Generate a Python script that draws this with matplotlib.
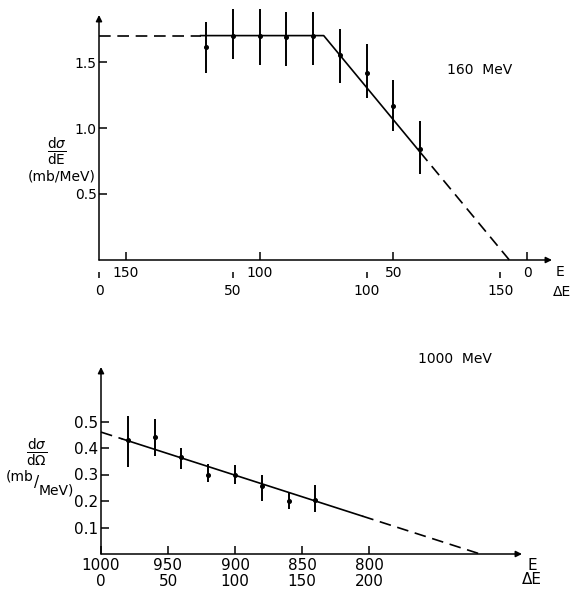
import numpy as np
import matplotlib
matplotlib.use("Agg")
import matplotlib.pyplot as plt

plt.rcParams['font.family'] = ['DejaVu Sans']
plt.rcParams['mathtext.fontset'] = 'dejavusans'

# ---------------- data: 160 MeV panel ----------------
top_E0 = 160
top_dE = [40, 50, 60, 70, 80, 90, 100, 110, 120]
top_val = [1.61, 1.70, 1.70, 1.69, 1.70, 1.55, 1.42, 1.17, 0.84]
top_lo = [1.42, 1.52, 1.48, 1.47, 1.48, 1.34, 1.23, 0.98, 0.65]
top_hi = [1.80, 1.90, 1.90, 1.88, 1.88, 1.75, 1.64, 1.36, 1.05]
top_fit_dE = [0, 84, 153.4]
top_fit_val = [1.70, 1.70, 0.0]
top_solid = [38, 120]
top_E_ticks = [150, 100, 50, 0]
top_dE_ticks = [0, 50, 100, 150]
top_y_ticks = [0.5, 1.0, 1.5]
top_y_labels = ["0.5", "1.0", "1.5"]

# ---------------- data: 1000 MeV panel ----------------
bot_E0 = 1000
bot_dE = [20, 40, 60, 80, 100, 120, 140, 160]
bot_val = [0.43, 0.44, 0.365, 0.30, 0.30, 0.255, 0.20, 0.205]
bot_lo = [0.33, 0.37, 0.32, 0.27, 0.265, 0.20, 0.17, 0.16]
bot_hi = [0.52, 0.51, 0.40, 0.34, 0.335, 0.30, 0.235, 0.26]
bot_fit_dE = [0, 283]
bot_fit_val = [0.46, 0.0]
bot_solid = [16, 195]
bot_E_ticks = [1000, 950, 900, 850, 800]
bot_dE_ticks = [0, 50, 100, 150, 200]
bot_y_ticks = [0.1, 0.2, 0.3, 0.4, 0.5]
bot_y_labels = ["0.1", "0.2", "0.3", "0.4", "0.5"]

W, H = 570, 590
fig = plt.figure(figsize=(W / 100, H / 100), dpi=100)


def px_axes(l, t, r, b):
    return fig.add_axes([l / W, 1 - b / H, (r - l) / W, (b - t) / H])


def ftext(x, y, s, **kw):
    fig.text(x / W, 1 - y / H, s, ha='center', va='center', **kw)


def panel(ax, E0, dE, val, lo, hi, fit_dE, fit_val, solid, E_ticks, dE_ticks,
          yt, ytl, xlim_span, ymax, fs, x_pad, dE_loc, dE_tick_len, dE_pad, dash):
    ax.set_xlim(E0, E0 - xlim_span)
    ax.set_ylim(0, ymax)
    for s in ax.spines.values():
        s.set_visible(False)
    ax.patch.set_alpha(0)
    # axes with arrows
    arrow = dict(arrowstyle='-|>', color='k', lw=1.1, mutation_scale=9,
                 shrinkA=0, shrinkB=0)
    ax.annotate('', xy=(1, 0), xytext=(0, 0), xycoords='axes fraction',
                arrowprops=arrow)
    ax.annotate('', xy=(0, 1), xytext=(0, 0), xycoords='axes fraction',
                arrowprops=arrow)
    dE = np.array(dE, float)
    val = np.array(val)
    lo = np.array(lo)
    hi = np.array(hi)
    E = E0 - dE
    cont = ax.errorbar(E, val, yerr=[val - lo, hi - val], fmt='o', ms=2.6,
                       color='k', elinewidth=1.4, capsize=0)
    for a in cont.get_children():
        a.set_clip_on(False)
    # fit line: dashed extrapolation, solid over data
    fd = np.array(fit_dE, float)
    fv = np.array(fit_val, float)
    full = np.unique(np.concatenate([fd, solid]))
    seg_l = full[full <= solid[0]]
    seg_m = full[(full >= solid[0]) & (full <= solid[1])]
    seg_r = full[full >= solid[1]]
    for seg, style in ((seg_l, 'dash'), (seg_m, 'solid'), (seg_r, 'dash')):
        ln, = ax.plot(E0 - seg, np.interp(seg, fd, fv), color='k', lw=1.2,
                      clip_on=False)
        if style == 'dash':
            ln.set_dashes(dash)
    # ticks
    ax.set_yticks(yt)
    ax.set_yticklabels(ytl, fontsize=fs)
    ax.tick_params(axis='y', direction='in', length=5.5, width=1.1, pad=1.8)
    ax.set_xticks(E_ticks)
    ax.set_xticklabels([str(e) for e in E_ticks], fontsize=fs)
    ax.tick_params(axis='x', direction='in', length=5.8, width=1.1, pad=x_pad)
    sec = ax.secondary_xaxis(dE_loc, functions=(lambda e: E0 - e, lambda d: E0 - d))
    sec.set_xticks(dE_ticks)
    sec.set_xticklabels([str(d) for d in dE_ticks], fontsize=fs)
    sec.tick_params(axis='x', direction='out', length=dE_tick_len, width=1.1,
                    pad=dE_pad)
    sec.spines['bottom'].set_visible(False)
    return ax


# top panel
ax1 = px_axes(99, 15, 552, 260)
panel(ax1, top_E0, top_dE, top_val, top_lo, top_hi, top_fit_dE, top_fit_val,
      top_solid, top_E_ticks, top_dE_ticks, top_y_ticks, top_y_labels,
      (552 - 99) / 2.675, (260 - 15) / 132.0, 10, 4.5, -12 / 245, 4.3, 4.0, (7, 4))
ftext(480, 70, "160  MeV", fontsize=10)
ftext(560, 272, "E", fontsize=10)
ftext(562, 292, "ΔE", fontsize=10)
ftext(57, 152, r"$\frac{\mathrm{d}\sigma}{\mathrm{dE}}$", fontsize=14)
ftext(62, 177, "(mb/MeV)", fontsize=10)

# bottom panel
ax2 = px_axes(101, 367, 522, 554)
panel(ax2, bot_E0, bot_dE, bot_val, bot_lo, bot_hi, bot_fit_dE, bot_fit_val,
      bot_solid, bot_E_ticks, bot_dE_ticks, bot_y_ticks, bot_y_labels,
      (522 - 101) / 1.34, (554 - 367) / 265.0, 11, 3.2, -19 / 187, 0, 0.8, (7, 4))
ftext(455, 359, "1000  MeV", fontsize=10)
ftext(532, 565, "E", fontsize=11)
ftext(532, 580, "ΔE", fontsize=11)
ftext(37, 453, r"$\frac{\mathrm{d}\sigma}{\mathrm{d}\Omega}$", fontsize=14)
ftext(20, 477, "(mb", fontsize=10)
ftext(37, 483, "/", fontsize=11)
ftext(56, 490, "MeV)", fontsize=10)

fig.savefig("out.png", dpi=100)
